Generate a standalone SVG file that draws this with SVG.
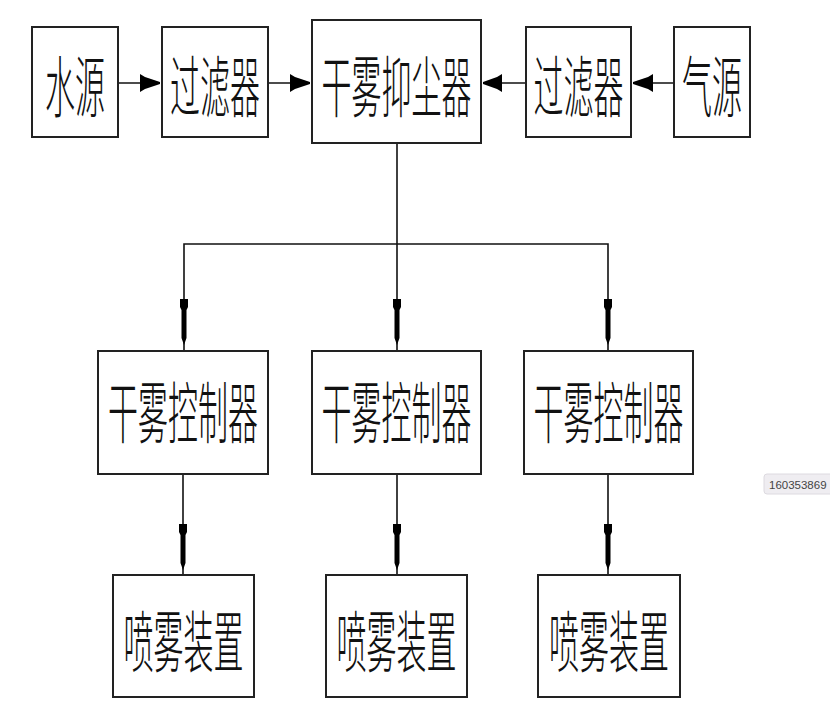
<svg xmlns="http://www.w3.org/2000/svg" width="830" height="710" viewBox="0 0 830 710">
<style>
.box{fill:#ffffff;stroke:#222222;stroke-width:2}
.ln{fill:none;stroke:#111111;stroke-width:1.6}
.ah{fill:#000000;stroke:none}
.lbl{font-family:"Noto Sans CJK SC","Noto Sans CJK JP",sans-serif;font-size:30px;font-weight:300;fill:#111111;text-anchor:middle}
.tip{font-family:"Liberation Sans","DejaVu Sans",sans-serif;font-size:11.5px;fill:#444444}
</style>
<rect width="830" height="710" fill="#ffffff"/>
<g id="connectors">
  <line class="ln" x1="118" y1="83" x2="160" y2="83"/>
  <path class="ah" d="M140,74 L145,77 L160,82 L160,84 L145,89 L140,92 Z"/>
  <line class="ln" x1="268" y1="83" x2="310" y2="83"/>
  <path class="ah" d="M290,74 L295,77 L310,82 L310,84 L295,89 L290,92 Z"/>
  <line class="ln" x1="526" y1="83" x2="483" y2="83"/>
  <path class="ah" d="M502,74 L497,77 L483,82 L483,84 L497,89 L502,92 Z"/>
  <line class="ln" x1="674" y1="83" x2="633" y2="83"/>
  <path class="ah" d="M653,74 L648,77 L633,82 L633,84 L648,89 L653,92 Z"/>
  <polyline class="ln" points="397,143 397,244"/>
  <polyline class="ln" points="184,350 184,244 608,244 608,350"/>
  <line class="ln" x1="397" y1="244" x2="397" y2="350"/>
  <path class="ah" d="M180,299 L188,299 L188,307 L186.5,310 L186.5,338 L184,345 L181.5,338 L181.5,310 L180,307 Z"/>
  <path class="ah" d="M393,299 L401,299 L401,307 L399.5,310 L399.5,338 L397,345 L394.5,338 L394.5,310 L393,307 Z"/>
  <path class="ah" d="M604,299 L612,299 L612,307 L610.5,310 L610.5,338 L608,345 L605.5,338 L605.5,310 L604,307 Z"/>
  <line class="ln" x1="183" y1="474" x2="183" y2="575"/>
  <line class="ln" x1="397" y1="474" x2="397" y2="575"/>
  <line class="ln" x1="608" y1="474" x2="608" y2="575"/>
  <path class="ah" d="M179,524 L187,524 L187,532 L185.5,535 L185.5,563 L183,570 L180.5,563 L180.5,535 L179,532 Z"/>
  <path class="ah" d="M393,524 L401,524 L401,532 L399.5,535 L399.5,563 L397,570 L394.5,563 L394.5,535 L393,532 Z"/>
  <path class="ah" d="M604,524 L612,524 L612,532 L610.5,535 L610.5,563 L608,570 L605.5,563 L605.5,535 L604,532 Z"/>
</g>
<g id="water-source">
  <rect class="box" x="32" y="27" width="86" height="110"/>
  <text class="lbl" transform="translate(75,112) scale(1,2.25)">水源</text>
</g>
<g id="filter-left">
  <rect class="box" x="162" y="27" width="106" height="110"/>
  <text class="lbl" transform="translate(215,112) scale(1,2.25)">过滤器</text>
</g>
<g id="dust-suppressor">
  <rect class="box" x="312" y="20" width="169" height="123"/>
  <text class="lbl" transform="translate(396.5,112) scale(1,2.25)">干雾抑尘器</text>
</g>
<g id="filter-right">
  <rect class="box" x="526" y="27" width="105" height="110"/>
  <text class="lbl" transform="translate(578.5,112) scale(1,2.25)">过滤器</text>
</g>
<g id="air-source">
  <rect class="box" x="674" y="27" width="76" height="110"/>
  <text class="lbl" transform="translate(712,112) scale(1,2.25)">气源</text>
</g>
<g id="controller-1">
  <rect class="box" x="98" y="351" width="170" height="123"/>
  <text class="lbl" transform="translate(183,438) scale(1,2.25)">干雾控制器</text>
</g>
<g id="controller-2">
  <rect class="box" x="312" y="351" width="169" height="123"/>
  <text class="lbl" transform="translate(396.5,438) scale(1,2.25)">干雾控制器</text>
</g>
<g id="controller-3">
  <rect class="box" x="524" y="351" width="169" height="123"/>
  <text class="lbl" transform="translate(608.5,438) scale(1,2.25)">干雾控制器</text>
</g>
<g id="spray-1">
  <rect class="box" x="113" y="575" width="141" height="122"/>
  <text class="lbl" transform="translate(183.5,667) scale(1,2.25)">喷雾装置</text>
</g>
<g id="spray-2">
  <rect class="box" x="326" y="575" width="141" height="122"/>
  <text class="lbl" transform="translate(396.5,667) scale(1,2.25)">喷雾装置</text>
</g>
<g id="spray-3">
  <rect class="box" x="538" y="575" width="142" height="122"/>
  <text class="lbl" transform="translate(609,667) scale(1,2.25)">喷雾装置</text>
</g>
<g id="tooltip">
  <rect x="764" y="474" width="80" height="20" rx="3" fill="#efedf1" stroke="#dddae0" stroke-width="1"/>
  <text class="tip" x="769" y="488.5">160353869</text>
</g>
</svg>
